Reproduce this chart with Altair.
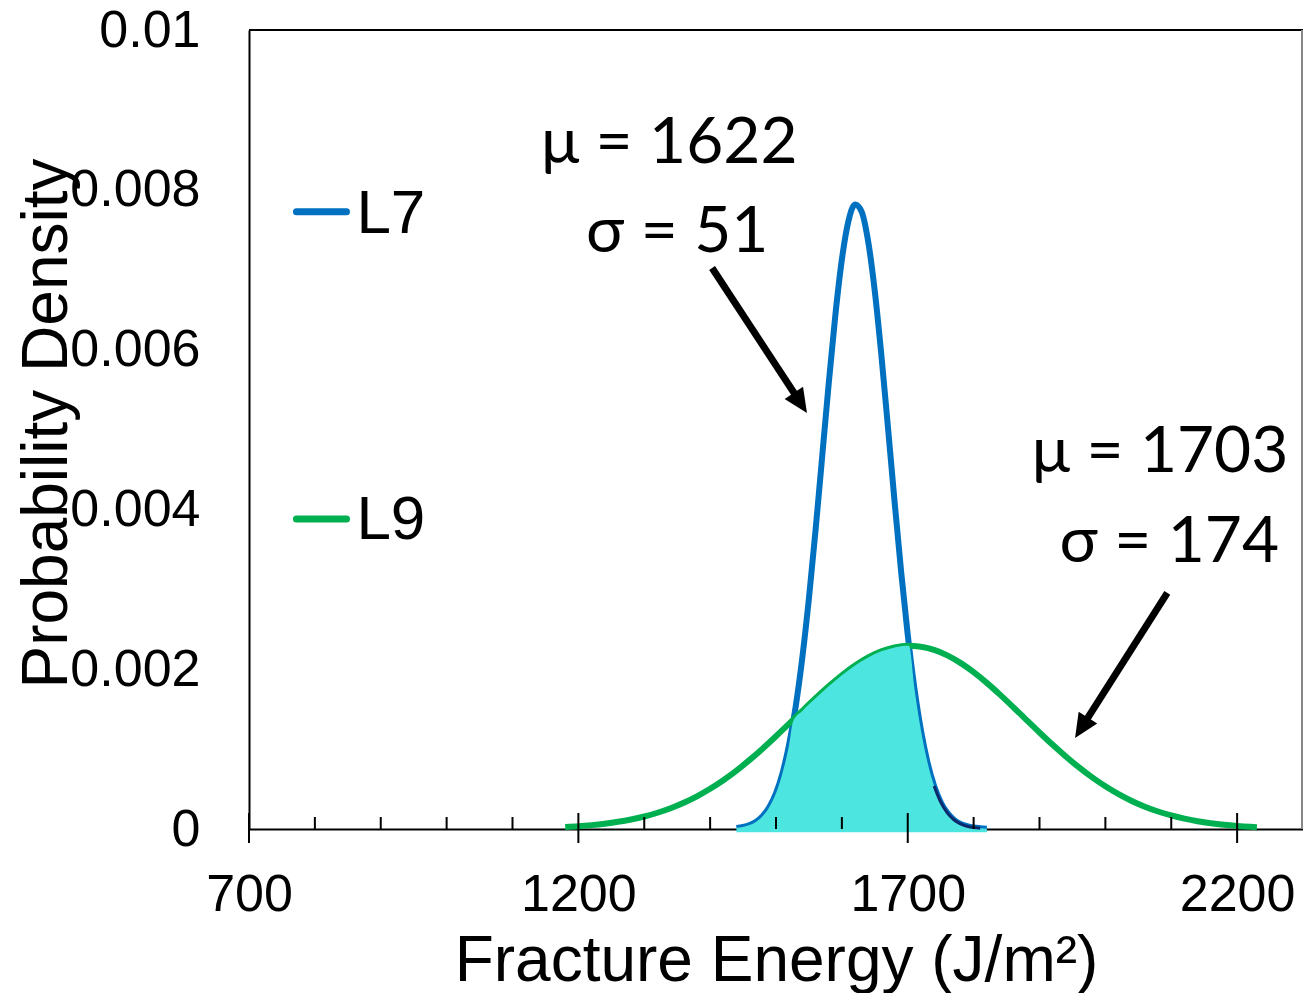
import altair as alt
import pandas as pd

# ---------------- data ----------------
energy_L7 = [1440, 1450, 1460, 1470, 1480, 1490, 1500, 1510, 1520, 1530,
             1540, 1550, 1560, 1570, 1580, 1590, 1600, 1610, 1620, 1630,
             1640, 1650, 1660, 1670, 1680, 1690, 1700, 1710, 1720, 1730,
             1740, 1750, 1760, 1770, 1780, 1790, 1800, 1810, 1820]
density_L7 = [0.0000134, 0.0000265, 0.0000504, 0.0000921, 0.0001622, 0.0002745,
              0.0004471, 0.0007019, 0.0010587, 0.0015373, 0.0021472, 0.0028878,
              0.0037360, 0.0046518, 0.0055724, 0.0064244, 0.0071276, 0.0076089,
              0.0078164, 0.0077267, 0.0073499, 0.0067280, 0.0059263, 0.0050235,
              0.0040972, 0.0032159, 0.0024289, 0.0017654, 0.0012348, 0.0008311,
              0.0005381, 0.0003353, 0.0002012, 0.0001161, 0.0000645, 0.0000344,
              0.0000177, 0.0000088, 0.0000042]

energy_L9 = [1180, 1200, 1220, 1240, 1260, 1280, 1300, 1320, 1340, 1360,
             1380, 1400, 1420, 1440, 1460, 1480, 1500, 1520, 1540, 1560,
             1580, 1600, 1620, 1640, 1660, 1680, 1700, 1720, 1740, 1760,
             1780, 1800, 1820, 1840, 1860, 1880, 1900, 1920, 1940, 1960,
             1980, 2000, 2020, 2040, 2060, 2080, 2100, 2120, 2140, 2160,
             2180, 2200, 2220, 2230]
density_L9 = [0.0000250, 0.0000351, 0.0000486, 0.0000665, 0.0000897, 0.0001194,
              0.0001568, 0.0002034, 0.0002602, 0.0003285, 0.0004093, 0.0005034,
              0.0006109, 0.0007316, 0.0008647, 0.0010086, 0.0011609, 0.0013187,
              0.0014784, 0.0016357, 0.0017859, 0.0019243, 0.0020462, 0.0021473,
              0.0022238, 0.0022729, 0.0022925, 0.0022819, 0.0022415, 0.0021730,
              0.0020789, 0.0019628, 0.0018288, 0.0016817, 0.0015261, 0.0013668,
              0.0012079, 0.0010534, 0.0009068, 0.0007703, 0.0006457, 0.0005341,
              0.0004361, 0.0003514, 0.0002795, 0.0002193, 0.0001699, 0.0001298,
              0.0000979, 0.0000728, 0.0000535, 0.0000388, 0.0000277, 0.0000234]

# points where the two curves cross (bounds of the shaded overlap)
crossing_x = [1526, 1702]
crossing_y = [0.00135, 0.00229]

series_names = ["L7", "L9"]
series_colors = ["#0070C0", "#00B050"]

x_major_ticks = [700, 1200, 1700, 2200]
x_minor_ticks = [800, 900, 1000, 1100, 1300, 1400, 1500, 1600,
                 1800, 1900, 2000, 2100]
y_ticks = [0, 0.002, 0.004, 0.006, 0.008, 0.01]

ann_text = ["μ = 1622", "σ = 51", "μ = 1703", "σ = 174"]
ann_x = [1338, 1350, 2083, 2097]
ann_y = [0.008335, 0.007222, 0.004468, 0.003342]

arrow_from_x = [1403, 2094]
arrow_from_y = [0.007021, 0.002954]
arrow_shaft_end_x = [1535, 1966]
arrow_shaft_end_y = [0.005363, 0.001298]
arrow_tip_x = [1547, 1954]
arrow_tip_y = [0.005207, 0.001139]
arrow_angle = [146.8, 212.4]

legend_line_x = [772, 772]
legend_line_x2 = [848, 848]
legend_line_y = [0.007725, 0.00388]
legend_text_x = [863, 863]
legend_text_y = [0.007459, 0.003626]

# ---------------- tables ----------------
curves = pd.DataFrame(
    {"x": energy_L7 + energy_L9,
     "y": density_L7 + density_L9,
     "series": ["L7"] * len(energy_L7) + ["L9"] * len(energy_L9)}
)

ov = [(x, y) for x, y in zip(energy_L7, density_L7) if x < crossing_x[0]]
ov += [(crossing_x[0], crossing_y[0])]
ov += [(x, y) for x, y in zip(energy_L9, density_L9) if crossing_x[0] < x < crossing_x[1]]
ov += [(crossing_x[1], crossing_y[1])]
ov += [(x, y) for x, y in zip(energy_L7, density_L7) if x > crossing_x[1]]
overlap = pd.DataFrame({"x": [p[0] for p in ov], "y": [p[1] for p in ov]})

tail = pd.DataFrame({"x": [x for x in energy_L7 if 1740 <= x <= 1810],
                     "y": [y for x, y in zip(energy_L7, density_L7) if 1740 <= x <= 1810]})

ann_df = pd.DataFrame({"x": ann_x, "y": ann_y, "t": ann_text})
arrow_df = pd.DataFrame({"x": arrow_from_x, "y": arrow_from_y,
                         "x2": arrow_shaft_end_x, "y2": arrow_shaft_end_y,
                         "tx": arrow_tip_x, "ty": arrow_tip_y, "a": arrow_angle})
legend_df = pd.DataFrame({"series": series_names, "x": legend_line_x, "x2": legend_line_x2,
                          "y": legend_line_y, "tx": legend_text_x, "ty": legend_text_y})
minor_df = pd.DataFrame({"x": x_minor_ticks})
major_df = pd.DataFrame({"x": x_major_ticks})
one = pd.DataFrame({"k": [0]})

W, H = 1054, 799
FONT = "Liberation Sans"

xscale = alt.Scale(domain=[700, 2300], nice=False)
yscale = alt.Scale(domain=[0, 0.01], nice=False)
cscale = alt.Scale(domain=series_names, range=series_colors)

x_axis = alt.Axis(values=x_major_ticks, format="d", ticks=False, tickSize=0,
                  labelPadding=81, labelBaseline="alphabetic", labelFlush=False,
                  labelOverlap=False, labelFont=FONT, labelFontSize=52, labelColor="black",
                  domainColor="black", domainWidth=2, grid=False,
                  title="Fracture Energy (J/m²)", titleFont=FONT, titleFontSize=64,
                  titleFontWeight="normal", titleColor="black", titleX=527, titleY=151,
                  titleBaseline="alphabetic", titleAlign="center")
y_axis = alt.Axis(values=y_ticks, format="~g", ticks=False, tickSize=0,
                  labelPadding=49, labelFont=FONT, labelFontSize=52, labelColor="black",
                  labelOverlap=False, labelFlush=False,
                  domainColor="black", domainWidth=2, grid=False,
                  title="Probability Density", titleFont=FONT, titleFontSize=64,
                  titleFontWeight="normal", titleColor="black", titleX=-183, titleY=393,
                  titleBaseline="alphabetic", titleAlign="center", titleAngle=270)

X = lambda f: alt.X(f, scale=xscale)
Y = lambda f: alt.Y(f, scale=yscale)

lines = alt.Chart(curves).mark_line(strokeWidth=6, interpolate="monotone").encode(
    x=alt.X("x:Q", scale=xscale, axis=x_axis),
    y=alt.Y("y:Q", scale=yscale, axis=y_axis),
    color=alt.Color("series:N", scale=cscale, legend=None),
)

fill = alt.Chart(overlap).mark_area(color="#4DE5DF", opacity=1, interpolate="monotone").encode(
    x=X("x:Q"), y=Y("y:Q"), y2=alt.datum(-0.00004),
)

tail_line = alt.Chart(tail).mark_line(color="#0B2A6B", strokeWidth=3, interpolate="monotone").encode(
    x=X("x:Q"), y=Y("y:Q"),
)

minor = alt.Chart(minor_df).mark_rule(color="black", strokeWidth=2).encode(
    x=X("x:Q"), y=alt.value(H - 12), y2=alt.value(H),
)
major = alt.Chart(major_df).mark_rule(color="black", strokeWidth=2).encode(
    x=X("x:Q"), y=alt.value(H - 16), y2=alt.value(H + 14),
)

top_border = alt.Chart(one).mark_rule(color="black", strokeWidth=2).encode(
    x=alt.value(0), x2=alt.value(W), y=alt.value(0))
right_border = alt.Chart(one).mark_rule(color="#888888", strokeWidth=2).encode(
    x=alt.value(W - 1), y=alt.value(0), y2=alt.value(H))

ann = alt.Chart(ann_df).mark_text(font="Lato", fontSize=64, align="center",
                                  baseline="alphabetic", color="black").encode(
    x=X("x:Q"), y=Y("y:Q"), text="t:N",
)

shafts = alt.Chart(arrow_df).mark_rule(color="black", strokeWidth=7).encode(
    x=X("x:Q"), y=Y("y:Q"), x2="x2:Q", y2="y2:Q",
)
heads = alt.Chart(arrow_df).mark_point(
    shape="M0,0L-0.55,1.2L0.55,1.2Z", size=1600, filled=True, color="black", opacity=1
).encode(
    x=X("tx:Q"), y=Y("ty:Q"), angle=alt.Angle("a:Q", scale=None),
)

leg_lines = alt.Chart(legend_df).mark_rule(strokeWidth=7, strokeCap="round").encode(
    x=X("x:Q"), x2="x2:Q", y=Y("y:Q"),
    color=alt.Color("series:N", scale=cscale, legend=None),
)
leg_text = alt.Chart(legend_df).mark_text(font=FONT, fontSize=62, align="left",
                                          baseline="alphabetic", color="black").encode(
    x=X("tx:Q"), y=Y("ty:Q"), text="series:N",
)

chart = alt.layer(
    lines, fill, tail_line, minor, major, top_border, right_border,
    ann, shafts, heads, leg_lines, leg_text
).properties(
    width=W, height=H,
    autosize=alt.AutoSizeParams(type="none"),
    padding={"left": 241, "top": 22, "right": 0, "bottom": 164},
    background="white",
).configure_view(stroke=None)

chart.save("out.html", embed_options={"renderer": "svg", "actions": False})
